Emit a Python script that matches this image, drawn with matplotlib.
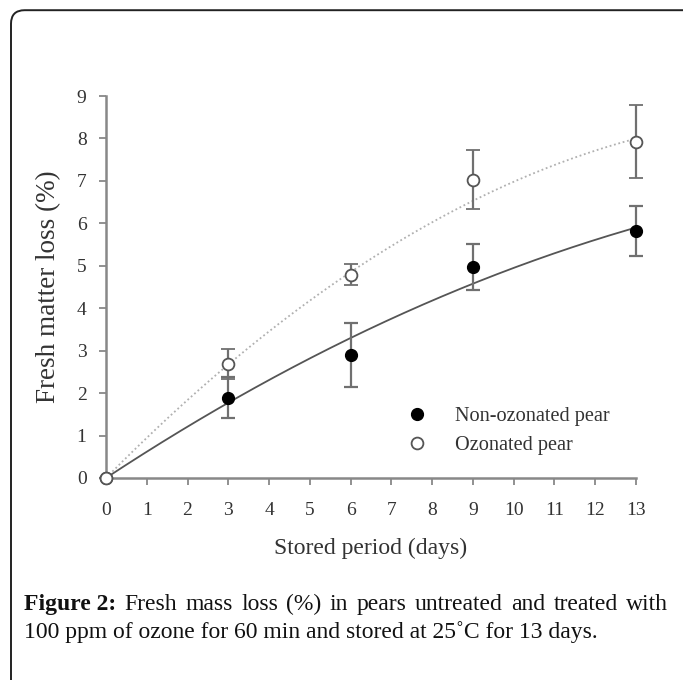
import numpy as np
import matplotlib
matplotlib.use('Agg')
import matplotlib.pyplot as plt
from matplotlib.lines import Line2D
from matplotlib.patches import FancyBboxPatch

# data
days = [0, 3, 6, 9, 13]
non_ozonated = [0, 1.89, 2.90, 4.97, 5.82]
non_ozonated_err = [0, 0.48, 0.75, 0.55, 0.59]
ozonated = [0, 2.68, 4.79, 7.03, 7.92]
ozonated_err = [0, 0.35, 0.25, 0.70, 0.86]
# quadratic fit through origin: y = a*x + b*x^2
fit_non_ozonated = [0.632, -0.0137]
fit_ozonated = [0.974, -0.0276]

x_ticks = list(range(0, 14))
y_ticks = list(range(0, 10))

caption_bold = 'Figure 2:'
caption_line1 = 'Fresh mass loss (%) in pears untreated and treated with'
caption_line2 = '100 ppm of ozone for 60 min and stored at 25\u02daC for 13 days.'

plt.rcParams['font.family'] = 'Liberation Serif'

fig = plt.figure(figsize=(6.83, 6.80), dpi=100)
ax = fig.add_axes([0.1552, 0.2971, 0.7760, 0.5617])

# frame around the figure + caption
box = FancyBboxPatch((0.0161, -0.05), 1.2, 1.035, boxstyle='round,pad=0,rounding_size=0.02',
                     transform=fig.transFigure, fill=False, edgecolor='#222222', linewidth=1.4)
fig.patches.append(box)

xs = np.linspace(0, 13, 200)
ax.plot(xs, fit_non_ozonated[0] * xs + fit_non_ozonated[1] * xs ** 2, color='#555555', lw=1.3, zorder=2)
ax.plot(xs, fit_ozonated[0] * xs + fit_ozonated[1] * xs ** 2, color='#b0b0b0', lw=1.3, ls=(0, (1, 1.5)), zorder=2)

ax.errorbar(days, non_ozonated, yerr=non_ozonated_err, fmt='o', color='black', ms=8.5,
            ecolor='#707070', elinewidth=1.6, capsize=5, capthick=1.6, zorder=3, clip_on=False)
ax.errorbar(days, ozonated, yerr=ozonated_err, fmt='o', mfc='white', mec='#555555', mew=1.3, ms=8.5,
            ecolor='#707070', elinewidth=1.6, capsize=5, capthick=1.6, zorder=4, clip_on=False)

ax.set_xlim(0, 13)
ax.set_ylim(0, 9)
ax.set_xticks(x_ticks)
ax.set_yticks(y_ticks)
for s in ['top', 'right']:
    ax.spines[s].set_visible(False)
for s in ['left', 'bottom']:
    ax.spines[s].set_color('#888888')
    ax.spines[s].set_linewidth(1.8)
ax.tick_params(direction='out', length=5, width=1.3, color='#888888', labelcolor='#333333', labelsize=14)
ax.tick_params(axis='x', pad=12)
ax.tick_params(axis='y', pad=9)

ax.set_xlabel('Stored period (days)', fontsize=17, color='#333333', labelpad=14)
ax.set_ylabel('Fresh matter loss (%)', fontsize=19.5, color='#333333', labelpad=11)

handles = [Line2D([], [], ls='none', marker='o', color='black', ms=8.5),
           Line2D([], [], ls='none', marker='o', mfc='white', mec='#555555', mew=1.3, ms=8.5)]
ax.legend(handles, ['Non-ozonated pear', 'Ozonated pear'], loc='upper left',
          bbox_to_anchor=(0.569, 0.413), bbox_transform=fig.transFigure, frameon=False, borderaxespad=0,
          fontsize=14.6, handletextpad=0.85, labelspacing=0.45, labelcolor='#333333')

# caption, first line justified between x=24 and x=668 px
y1 = 1 - 610 / 680
y2 = 1 - 638 / 680
x_left = 24 / 683
x_right = 668 / 683
fig.canvas.draw()
r = fig.canvas.get_renderer()
words = [(caption_bold, 'bold')] + [(w, 'normal') for w in caption_line1.split()]
texts = [fig.text(0, y1, w, fontsize=17, fontweight=fw, va='baseline', color='#111111') for w, fw in words]
widths = [t.get_window_extent(r).width / fig.bbox.width for t in texts]
gap = (x_right - x_left - sum(widths)) / (len(texts) - 1)
xpos = x_left
for t, w in zip(texts, widths):
    t.set_x(xpos)
    xpos += w + gap
fig.text(x_left, y2, caption_line2, fontsize=17, va='baseline', color='#111111')

fig.savefig('out.png', dpi=100)
